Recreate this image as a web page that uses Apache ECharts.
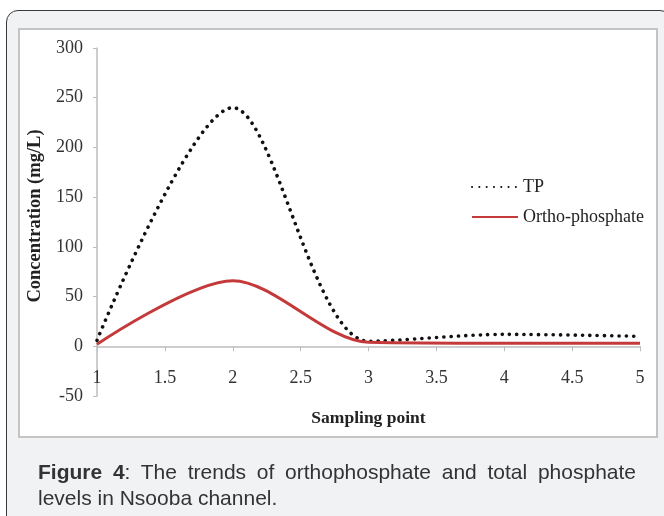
<!DOCTYPE html>
<html>
<head>
<meta charset="utf-8">
<script src="https://cdn.jsdelivr.net/npm/echarts@6/dist/echarts.min.js"></script>
<style>
  * { margin: 0; padding: 0; box-sizing: border-box; }
  body { width: 664px; height: 516px; background: #fff; position: relative; overflow: hidden; }
  .frame {
    position: absolute; left: 6px; top: 10px; width: 666px; height: 520px;
    background: #f1f2f4; border: 1.5px solid #3a3a3a; border-radius: 12px;
  }
  .panel {
    position: absolute; left: 18px; top: 28px; width: 640px; height: 410px;
    background: #fff; border: 2px solid #c4c4c4;
  }
  #chart { position: absolute; left: 0; top: 0; width: 664px; height: 516px; }
  .caption {
    position: absolute; left: 38px; top: 459px; width: 598px;
    font-family: "Liberation Sans", Arial, sans-serif; font-size: 21px; line-height: 26px;
    color: #333;
  }
  .caption .l1 { text-align: justify; text-align-last: justify; white-space: nowrap; }
</style>
</head>
<body>
<div class="frame"></div>
<div class="panel"></div>
<div id="chart"></div>
<div class="caption">
  <div class="l1"><b>Figure 4</b>: The trends of orthophosphate and total phosphate</div>
  <div>levels in Nsooba channel.</div>
</div>

<script>
// sampling points and measured concentrations (mg/L)
var samplingPoints = [1, 2, 3, 4, 5];
var tpValues = [6, 240, 5, 12, 10];
var orthoValues = [2, 66, 4, 3, 3];
var yTicks = { min: -50, max: 300, interval: 50 };

function pairs(xs, ys) {
  return xs.map(function (x, i) { return [x, ys[i]]; });
}

var chart = echarts.init(document.getElementById('chart'));
var serif = '"Liberation Serif", "Times New Roman", serif';

chart.setOption({
  animation: false,
  grid: { left: 97, right: 24, top: 48, bottom: 120 },
  legend: {
    orient: 'vertical',
    left: 471,
    top: 178,
    padding: 0,
    itemWidth: 46,
    itemHeight: 10,
    itemGap: 12,
    itemStyle: { opacity: 0 },
    textStyle: { fontFamily: serif, fontSize: 18, color: '#222' },
    data: ['TP', 'Ortho-phosphate']
  },
  xAxis: {
    type: 'value',
    min: 1,
    max: 5,
    interval: 0.5,
    name: 'Sampling point',
    nameLocation: 'middle',
    nameGap: 13,
    nameTextStyle: { fontFamily: serif, fontSize: 17.5, fontWeight: 'bold', color: '#222' },
    axisLine: { onZero: true, lineStyle: { color: '#bdbdbd', width: 1.5 } },
    axisTick: { show: true, length: 5, lineStyle: { color: '#bdbdbd' } },
    axisLabel: { margin: -27, fontFamily: serif, fontSize: 18, color: '#333' },
    splitLine: { show: false }
  },
  yAxis: {
    type: 'value',
    min: yTicks.min,
    max: yTicks.max,
    interval: yTicks.interval,
    name: 'Concentration (mg/L)',
    nameLocation: 'middle',
    nameGap: 52,
    nameTextStyle: { fontFamily: serif, fontSize: 18.5, fontWeight: 'bold', color: '#222', padding: [0, 0, 0, 12] },
    axisLine: { show: true, lineStyle: { color: '#bdbdbd', width: 1.5 } },
    axisTick: { show: true, length: 4, lineStyle: { color: '#bdbdbd' } },
    axisLabel: { margin: 14, fontFamily: serif, fontSize: 18, color: '#333' },
    splitLine: { show: false }
  },
  series: [
    {
      name: 'TP',
      type: 'line',
      smooth: 0.3,
      symbol: 'none',
      data: pairs(samplingPoints, tpValues),
      lineStyle: { color: '#111', width: 3.6, type: [0.1, 7.2], cap: 'round' },
      itemStyle: { color: '#111' }
    },
    {
      name: 'Ortho-phosphate',
      type: 'line',
      smooth: 0.3,
      symbol: 'none',
      data: pairs(samplingPoints, orthoValues),
      lineStyle: { color: '#c43a3a', width: 3 },
      itemStyle: { color: '#c43a3a' }
    }
  ]
});
</script>
</body>
</html>
